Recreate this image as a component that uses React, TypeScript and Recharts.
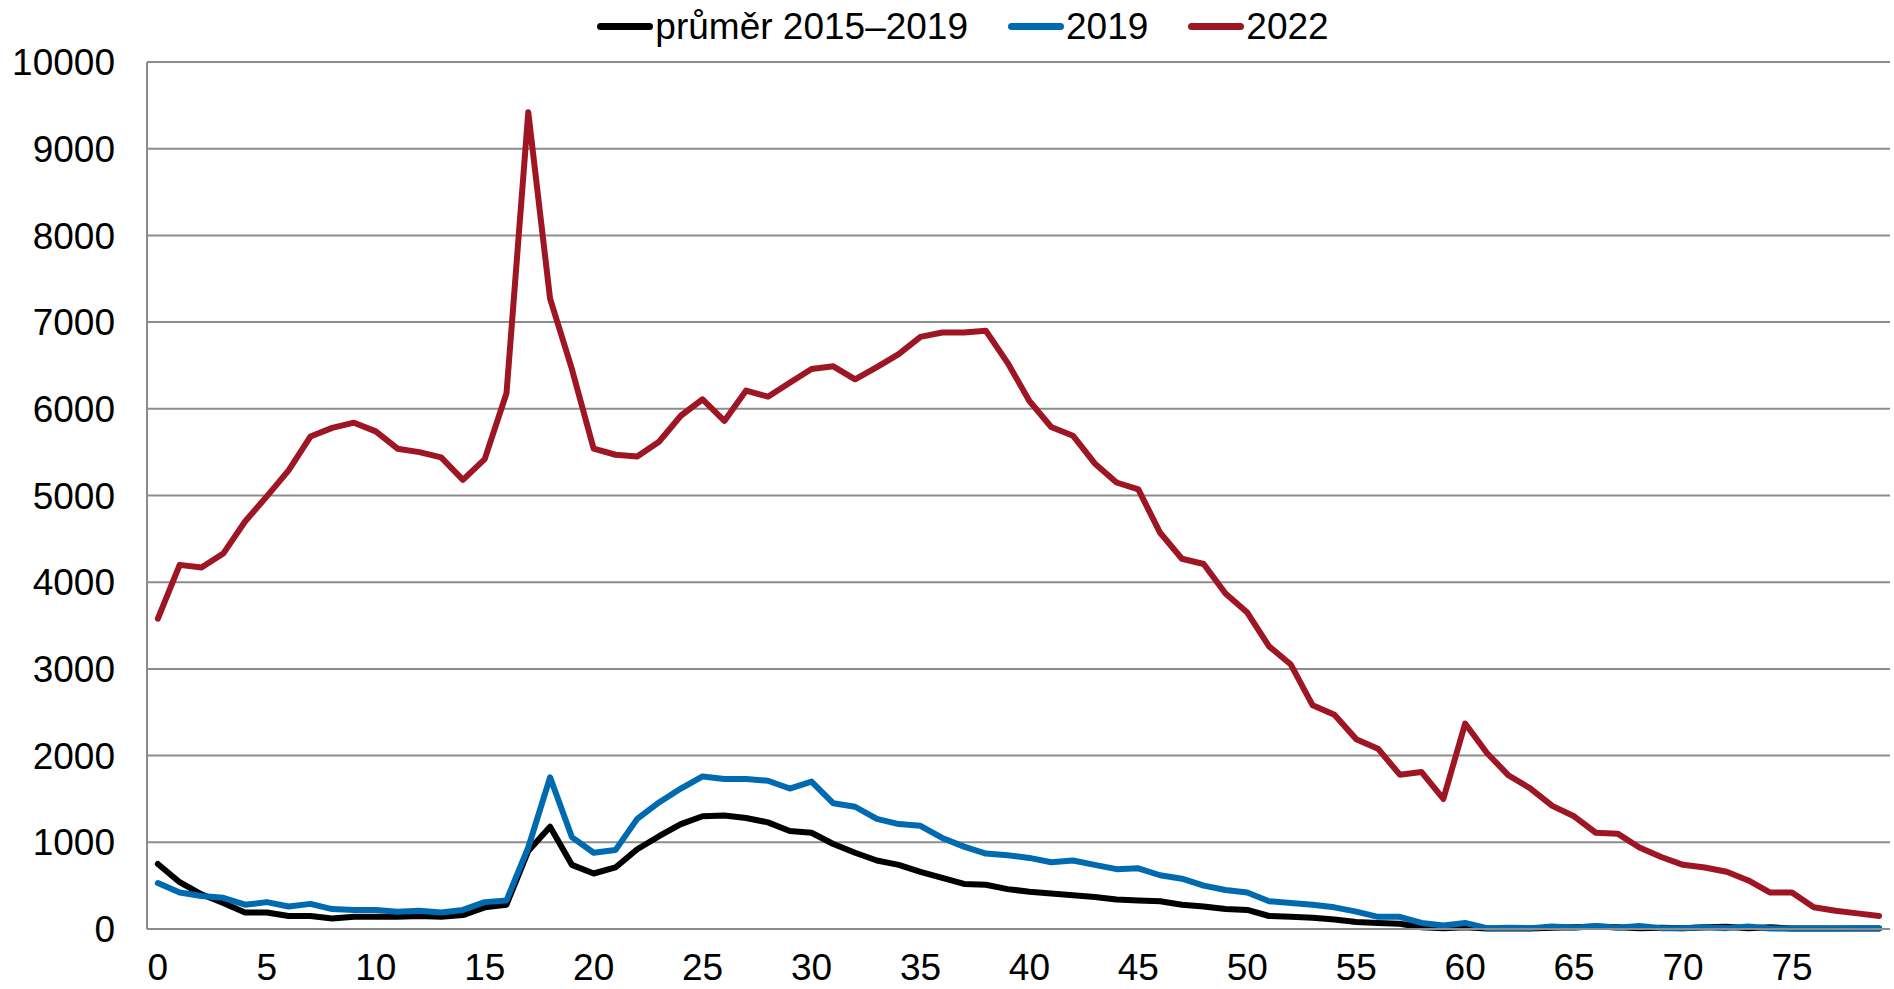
import { LineChart, Line, XAxis, YAxis, CartesianGrid, Legend } from "recharts";

// age 0..79
const ages = Array.from({ length: 80 }, (_, i) => i);

const avg1519 = [
  750, 540, 400, 300, 190, 190, 150, 150, 120, 140,
  140, 140, 150, 140, 160, 250, 280, 900, 1180, 740,
  640, 710, 920, 1070, 1210, 1300, 1310, 1280, 1230, 1130,
  1110, 980, 880, 790, 740, 660, 590, 520, 510, 460,
  430, 410, 390, 370, 340, 330, 320, 280, 260, 230,
  220, 150, 140, 130, 110, 80, 70, 60, 20, 10,
  20, 5, 10, 5, 15, 20, 30, 20, 10, 15,
  10, 20, 25, 10, 20, 5, 5, 5, 5, 5,
];

const y2019 = [
  530, 420, 380, 360, 280, 310, 260, 290, 230, 220,
  220, 200, 210, 190, 220, 310, 330, 940, 1750, 1060,
  880, 910, 1270, 1460, 1620, 1760, 1730, 1730, 1710, 1620,
  1700, 1450, 1410, 1270, 1210, 1190, 1050, 950, 870, 850,
  820, 770, 790, 740, 690, 700, 620, 580, 500, 450,
  420, 320, 300, 280, 250, 200, 140, 140, 70, 40,
  70, 10, 15, 10, 30, 15, 35, 15, 35, 10,
  10, 20, 10, 30, 5, 5, 5, 5, 10, 10,
];

const y2022 = [
  3580, 4200, 4170, 4330, 4700, 4990, 5290, 5680, 5780, 5840,
  5740, 5540, 5500, 5440, 5180, 5420, 6180, 9420, 7270, 6460,
  5540, 5470, 5450, 5620, 5920, 6110, 5860, 6210, 6140, 6300,
  6460, 6490, 6340, 6480, 6630, 6830, 6880, 6880, 6900, 6530,
  6090, 5790, 5690, 5370, 5150, 5070, 4570, 4270, 4210, 3870,
  3650, 3260, 3050, 2580, 2470, 2190, 2080, 1780, 1810, 1500,
  2370, 2030, 1770, 1620, 1420, 1300, 1110, 1100, 940, 830,
  740, 710, 660, 560, 420, 420, 250, 210, 180, 150,
];

const xTicks = [0, 5, 10, 15, 20, 25, 30, 35, 40, 45, 50, 55, 60, 65, 70, 75];
const yTicks = [0, 1000, 2000, 3000, 4000, 5000, 6000, 7000, 8000, 9000, 10000];

const series = [
  { key: "avg", name: "průměr 2015–2019", color: "#000000", values: avg1519 },
  { key: "y2019", name: "2019", color: "#006AB0", values: y2019 },
  { key: "y2022", name: "2022", color: "#9E1624", values: y2022 },
];

const data = ages.map((age, i) => ({
  age,
  avg: avg1519[i],
  y2019: y2019[i],
  y2022: y2022[i],
}));

const FONT = "'Liberation Sans', Arial, sans-serif";
const GRID = "#8C8C8C";

function ChartLegend() {
  return (
    <div
      style={{
        height: 62,
        boxSizing: "border-box",
        paddingBottom: 9,
        paddingLeft: 36,
        display: "flex",
        justifyContent: "center",
        alignItems: "center",
        fontFamily: FONT,
        fontSize: 37,
        color: "#000",
      }}
    >
      {series.map((s, i) => (
        <div
          key={s.key}
          style={{ display: "flex", alignItems: "center", marginLeft: i === 0 ? 0 : 40 }}
        >
          <span
            style={{
              display: "inline-block",
              width: 56,
              height: 7,
              borderRadius: 3.5,
              background: s.color,
              marginRight: 2,
            }}
          />
          <span>{s.name}</span>
        </div>
      ))}
    </div>
  );
}

export default function App() {
  return (
    <div style={{ position: "absolute", left: 0, top: 0, width: 1894, height: 989, background: "#fff" }}>
      <LineChart
        width={1894}
        height={989}
        data={data}
        margin={{ top: 0, right: 4, bottom: 0, left: 0 }}
      >
        <CartesianGrid vertical={false} stroke={GRID} strokeWidth={2} />
        <XAxis
          dataKey="age"
          type="number"
          domain={[-0.5, 79.5]}
          ticks={xTicks}
          interval={0}
          height={60}
          tickSize={0}
          tickMargin={25}
          axisLine={{ stroke: GRID, strokeWidth: 2 }}
          tickLine={false}
          tick={{ fill: "#000", fontSize: 37, fontFamily: FONT }}
        />
        <YAxis
          domain={[0, 10000]}
          ticks={yTicks}
          interval={0}
          width={147}
          tickSize={0}
          tickMargin={32}
          axisLine={{ stroke: GRID, strokeWidth: 2 }}
          tickLine={false}
          tick={{ fill: "#000", fontSize: 37, fontFamily: FONT }}
        />
        <Legend verticalAlign="top" content={() => <ChartLegend />} />
        {series.map((s) => (
          <Line
            key={s.key}
            type="linear"
            dataKey={s.key}
            name={s.name}
            stroke={s.color}
            strokeWidth={6}
            strokeLinejoin="round"
            strokeLinecap="round"
            dot={false}
            activeDot={false}
            isAnimationActive={false}
          />
        ))}
      </LineChart>
    </div>
  );
}
